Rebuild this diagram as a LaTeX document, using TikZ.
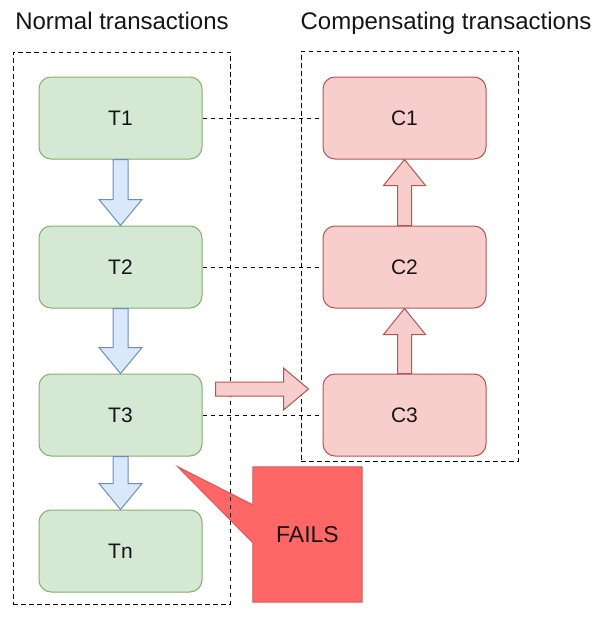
\documentclass[tikz,border=0pt]{standalone}
\usepackage{fontspec}
\setmainfont{Liberation Sans}
\usetikzlibrary{calc,backgrounds}
\definecolor{gfill}{HTML}{D5E8D4}
\definecolor{gline}{HTML}{82B366}
\definecolor{rfill}{HTML}{F8CECC}
\definecolor{rline}{HTML}{B85450}
\definecolor{bfill}{HTML}{DAE8FC}
\definecolor{bline}{HTML}{6C8EBF}
\definecolor{ffill}{HTML}{FF6666}
\definecolor{fline}{HTML}{D95858}
\definecolor{txt}{HTML}{151515}
\tikzset{
  title/.style={font=\fontsize{24}{28}\selectfont, text=txt, inner sep=0pt},
  group/.style={draw=black, line width=0.9pt, dash pattern=on 4.5pt off 3.5pt, inner sep=0pt},
  tbox/.style={draw=gline, fill=gfill, line width=1pt, rounded corners=12pt,
    minimum width=163pt, minimum height=82pt, inner sep=0pt, text=txt,
    font=\fontsize{21}{25}\selectfont},
  cbox/.style={tbox, draw=rline, fill=rfill},
  link/.style={draw=black, line width=0.9pt, dash pattern=on 4.5pt off 3.5pt},
  bluearrow/.style={draw=bline, fill=bfill, line width=1pt, line join=miter},
  pinkarrow/.style={draw=rline, fill=rfill, line width=1pt, line join=miter},
  failshape/.style={draw=fline, fill=ffill, line width=1pt, line join=miter},
  failtext/.style={minimum width=109pt, minimum height=135pt, inner sep=0pt,
    text=txt, font=\fontsize{23}{27}\selectfont}
}
\newcommand\downblk[2]{%
  \draw[bluearrow] let \p1=(#1), \p2=(#2) in
    (\x1-7.5pt,\y1) -- (\x1-7.5pt,\y2+26pt) -- (\x1-21.5pt,\y2+26pt) -- (\x1,\y2)
    -- (\x1+21.5pt,\y2+26pt) -- (\x1+7.5pt,\y2+26pt) -- (\x1+7.5pt,\y1) -- cycle;}
\newcommand\upblk[2]{%
  \draw[pinkarrow] let \p1=(#1), \p2=(#2) in
    (\x1-7pt,\y1) -- (\x1-7pt,\y2-26pt) -- (\x1-21pt,\y2-26pt) -- (\x1,\y2)
    -- (\x1+21pt,\y2-26pt) -- (\x1+7pt,\y2-26pt) -- (\x1+7pt,\y1) -- cycle;}
\begin{document}
\begin{tikzpicture}[x=1pt,y=-1pt]
\useasboundingbox (0,0) rectangle (601,626);

% titles
\node[title, anchor=base] (tl) at (122,30) {Normal transactions};
\node[title, anchor=base] (tr) at (446,30) {Compensating transactions};

% callout
\node[failtext] (fails) at (307.5,534.5) {FAILS};

% group frames
\node[group, minimum width=217pt, minimum height=552pt] (gl) at (121.5,328) {};
\node[group, minimum width=217pt, minimum height=410pt] (gr) at (409.5,256) {};

% boxes
\node[tbox] (t1) at (120.5,118) {T1};
\node[tbox] (t2) at (120.5,267) {T2};
\node[tbox] (t3) at (120.5,415) {T3};
\node[tbox] (tn) at (120.5,551) {Tn};
\node[cbox] (c1) at (404.5,118) {C1};
\node[cbox] (c2) at (404.5,267) {C2};
\node[cbox] (c3) at (404.5,415) {C3};

% dashed links
\draw[link] (t1.east) -- (c1.west);
\draw[link] (t2.east) -- (c2.west);
\draw[link] (t3.east) -- (c3.west);

% block arrows
\downblk{t1.south}{t2.north}
\downblk{t2.south}{t3.north}
\downblk{t3.south}{tn.north}
\upblk{c2.north}{c1.south}
\upblk{c3.north}{c2.south}
\draw[pinkarrow] let \p1=($(t3.east)+(13,-26)$), \p2=($(c3.west)+(-14,-26)$) in
  (\x1,\y1+7pt) -- (\x2-25pt,\y1+7pt) -- (\x2-25pt,\y1+21pt) -- (\x2,\y1)
  -- (\x2-25pt,\y1-21pt) -- (\x2-25pt,\y1-7pt) -- (\x1,\y1-7pt) -- cycle;

% background and callout shape
\begin{scope}[on background layer]
\fill[white] (0,0) rectangle (601,626);
\draw[failshape] (fails.north west) -- ($(fails.north west)+(0,38)$)
  -- ($(fails.north west)+(-75,0)$) -- ($(fails.north west)+(0,76)$)
  -- (fails.south west) -- (fails.south east) -- (fails.north east) -- cycle;
\end{scope}
\end{tikzpicture}
\end{document}
